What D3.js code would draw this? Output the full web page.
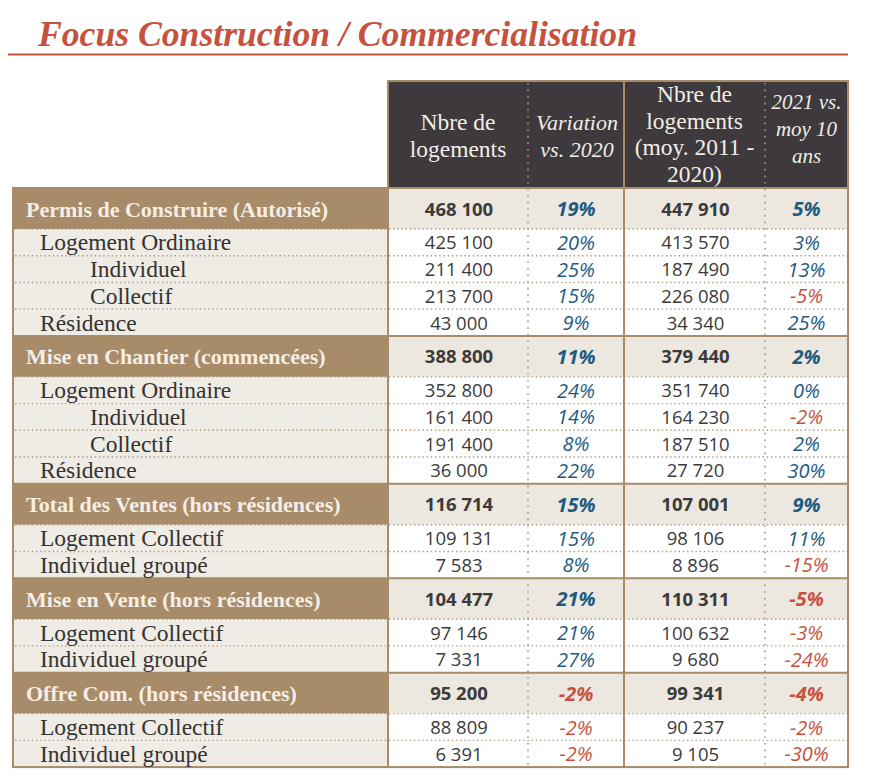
<!DOCTYPE html>
<html><head><meta charset="utf-8">
<script src="https://cdn.jsdelivr.net/npm/d3@7"></script>
<style>body{margin:0;background:#fff}</style>
</head><body>
<svg id="c" width="872" height="784"></svg>
<script>
// ---------- DATA ----------
const title = "Focus Construction / Commercialisation";
const headers = [
  ["Nbre de", "logements"],
  ["Variation", "vs. 2020"],
  ["Nbre de", "logements", "(moy. 2011 -", "2020)"],
  ["2021 vs.", "moy 10", "ans"]
];
const rowLabels = [
  "Permis de Construire (Autorisé)", "Logement Ordinaire", "Individuel", "Collectif", "Résidence",
  "Mise en Chantier (commencées)", "Logement Ordinaire", "Individuel", "Collectif", "Résidence",
  "Total des Ventes (hors résidences)", "Logement Collectif", "Individuel groupé",
  "Mise en Vente (hors résidences)", "Logement Collectif", "Individuel groupé",
  "Offre Com. (hors résidences)", "Logement Collectif", "Individuel groupé"
];
const rowLevels = [0,1,2,2,1, 0,1,2,2,1, 0,1,1, 0,1,1, 0,1,1];
const logements2021 = [468100,425100,211400,213700,43000, 388800,352800,161400,191400,36000, 116714,109131,7583, 104477,97146,7331, 95200,88809,6391];
const variation2020 = [19,20,25,15,9, 11,24,14,8,22, 15,15,8, 21,21,27, -2,-2,-2];
const moyenne10ans = [447910,413570,187490,226080,34340, 379440,351740,164230,187510,27720, 107001,98106,8896, 110311,100632,9680, 99341,90237,9105];
const vsMoyenne = [5,3,13,-5,25, 2,0,-2,2,30, 9,11,-15, -5,-3,-24, -4,-2,-30];

// ---------- LAYOUT ----------
const svg = d3.select("#c");
const L = 13, LR = 388, R = 848;
const colEdges = [388, 528, 624, 765, 848];
const headTop = 81, headBot = 188;
const secH = 41, rowH = 26.72;
const tan = "#a88c69", dark = "#3d393d", red = "#c5523f", blue = "#1d5b80";
const dotCol = "#a8997f";
const serif = "'Liberation Serif', 'Times New Roman', serif";
const sans = "'Open Sans', 'Liberation Sans', sans-serif";

const rows = rowLabels.map((lab, i) => ({
  label: lab, level: rowLevels[i], isSec: rowLevels[i] === 0,
  n: logements2021[i], v: variation2020[i], m: moyenne10ans[i], s: vsMoyenne[i]
}));
let acc = headBot;
rows.forEach(r => { r.y0 = acc; r.h = r.isSec ? secH : rowH; acc += r.h; r.y1 = acc; r.yc = (r.y0 + r.y1) / 2; });
const bottom = acc;

const x = d3.scaleOrdinal().domain([0,1,2,3]).range(colEdges.slice(0,4));
const colW = i => colEdges[i+1] - colEdges[i];
const cx = i => x(i) + colW(i) / 2;
const numFmt = d3.formatLocale({decimal: ",", thousands: " ", grouping: [3], currency: ["", "€"]}).format(",d");

// Title
svg.append("text").attr("x", 38).attr("y", 46).text(title)
  .attr("font-family", serif).attr("font-size", 36).attr("font-weight", "bold").attr("font-style", "italic")
  .attr("fill", red).attr("textLength", 599).attr("lengthAdjust", "spacingAndGlyphs");
svg.append("line").attr("x1", 8).attr("x2", R).attr("y1", 54.5).attr("y2", 54.5)
  .attr("stroke", red).attr("stroke-width", 2);

// Header
svg.append("rect").attr("x", LR).attr("y", headTop).attr("width", R - LR).attr("height", headBot - headTop)
  .attr("fill", dark);
const headerSpec = [
  {lines: headers[0], y0: 130, dy: 26.5, italic: false, fs: 23.5},
  {lines: headers[1], y0: 130, dy: 26.5, italic: true, fs: 22},
  {lines: headers[2], y0: 102, dy: 26.7, italic: false, fs: 23.5},
  {lines: headers[3], y0: 109, dy: 27, italic: true, fs: 21}
];
headerSpec.forEach((h, i) => {
  h.lines.forEach((t, j) => {
    svg.append("text").attr("x", cx(i) + (i === 1 ? 1 : 0)).attr("y", h.y0 + j * h.dy).text(t)
      .attr("text-anchor", "middle").attr("font-family", serif).attr("font-size", h.fs)
      .attr("font-style", h.italic ? "italic" : "normal").attr("fill", "#f1ede6");
  });
});

// Row backgrounds
const g = svg.append("g");
g.selectAll("rect.lab").data(rows).join("rect")
  .attr("x", L).attr("y", d => d.y0).attr("width", LR - L).attr("height", d => d.h)
  .attr("fill", d => d.isSec ? tan : "#efebe5");
g.selectAll("rect.dat").data(rows).join("rect")
  .attr("x", LR).attr("y", d => d.y0).attr("width", R - LR).attr("height", d => d.h)
  .attr("fill", d => d.isSec ? "#ece7df" : "#ffffff");

// Horizontal lines
rows.forEach((r, i) => {
  if (i === 0) return;
  const solid = r.isSec;
  svg.append("line").attr("x1", solid ? L : L + 2).attr("x2", R).attr("y1", r.y0).attr("y2", r.y0)
    .attr("stroke", solid ? tan : dotCol).attr("stroke-width", solid ? 2 : 1.4)
    .attr("stroke-dasharray", solid ? null : "1.4,2.8");
});

// Vertical lines
[1, 3].forEach(i => {
  svg.append("line").attr("x1", x(i)).attr("x2", x(i)).attr("y1", headTop + 2).attr("y2", bottom)
    .attr("stroke", dotCol).attr("stroke-width", 1.6).attr("stroke-dasharray", "1.6,5");
});
[LR, colEdges[2]].forEach(xx => {
  svg.append("line").attr("x1", xx).attr("x2", xx).attr("y1", headTop).attr("y2", bottom)
    .attr("stroke", tan).attr("stroke-width", 2);
});
// Outer borders
svg.append("rect").attr("x", LR).attr("y", headTop).attr("width", R - LR).attr("height", headBot - headTop)
  .attr("fill", "none").attr("stroke", tan).attr("stroke-width", 2);
svg.append("rect").attr("x", L).attr("y", headBot).attr("width", R - L).attr("height", bottom - headBot)
  .attr("fill", "none").attr("stroke", tan).attr("stroke-width", 2);

// Labels
const indent = [26, 40, 90];
svg.selectAll("text.lab").data(rows).join("text")
  .attr("x", d => indent[d.level]).attr("y", d => d.yc + 8)
  .text(d => d.label)
  .attr("font-family", serif).attr("font-size", d => d.isSec ? 22 : 23.5)
  .attr("font-weight", d => d.isSec ? "bold" : "normal")
  .attr("fill", d => d.isSec ? "#f4eee6" : "#333333");

// Numbers
[["n", 0], ["m", 2]].forEach(([k, ci]) => {
  svg.selectAll("text.num" + k).data(rows).join("text")
    .attr("x", cx(ci) + 1).attr("y", d => d.yc + 7)
    .attr("text-anchor", "middle").text(d => numFmt(d[k]))
    .attr("font-family", sans).attr("font-size", 18.5)
    .attr("font-weight", d => d.isSec ? "bold" : "normal")
    .attr("fill", "#3b3b3b");
});
[["v", 1], ["s", 3]].forEach(([k, ci]) => {
  svg.selectAll("text.pct" + k).data(rows).join("text")
    .attr("x", cx(ci)).attr("y", d => d.yc + 7.5)
    .attr("text-anchor", "middle").text(d => d[k] + "%")
    .attr("font-family", sans).attr("font-size", 20).attr("font-style", "italic")
    .attr("font-weight", d => d.isSec ? "bold" : "normal")
    .attr("fill", d => d[k] < 0 ? red : blue);
});
</script>
</body></html>
